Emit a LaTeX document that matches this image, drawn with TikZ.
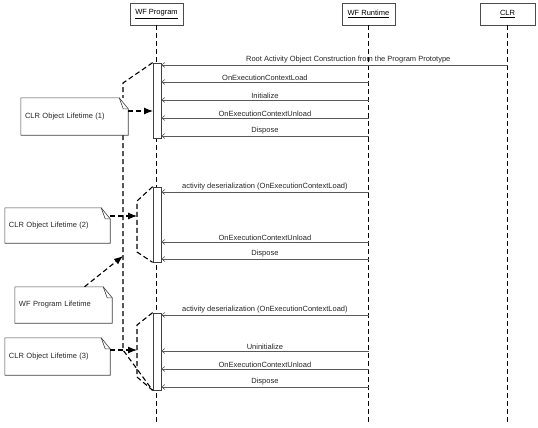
\documentclass[tikz,border=0pt]{standalone}
\usepackage{fontspec}
\setmainfont{Liberation Sans}
\usetikzlibrary{arrows.meta}
\begin{document}
\begin{tikzpicture}[x=1pt,y=-1pt,
  font=\fontsize{7.5}{9}\selectfont,
  head/.style={draw=black!70, line width=0.6pt, minimum width=53pt, minimum height=22pt, inner sep=0pt, fill=white},
  life/.style={draw=black, line width=0.7pt, dash pattern=on 5pt off 3pt},
  bar/.style={draw=black!75, line width=0.7pt, minimum width=8pt, inner sep=0pt, fill=white},
  msg/.style={draw=black!65, line width=0.6pt, -{Straight Barb[length=3pt,width=5pt]}},
  mlabel/.style={above, inner sep=1.5pt, text=black!85},
  note/.style={fill=white, inner xsep=4pt, inner ysep=0pt, align=left, text=black!85},
  lifespan/.style={draw=black, line width=1.1pt, dash pattern=on 5pt off 3pt},
  notearrow/.style={lifespan, -{Latex[length=9pt,width=7pt]}},
  noteline/.style={draw=black!75, line width=0.6pt},
]
\useasboundingbox (0,0) rectangle (538,428);
\fill[white] (0,0) rectangle (538,428);

% headers
\node[head] (wfp) at (156.5,14) {\underline{WF Program}};
\node[head] (wfr) at (368.5,14) {\underline{WF Runtime}};
\node[head, minimum width=55pt] (clr) at (507.5,14) {\underline{CLR}};

% lifelines
\coordinate (wfpEnd) at (156.5,423);
\coordinate (wfrEnd) at (368.5,423);
\coordinate (clrEnd) at (507.5,423);
\draw[life] (wfp.south) -- (wfpEnd);
\draw[life] (wfr.south) -- (wfrEnd);
\draw[life] (clr.south) -- (clrEnd);

% activation bars
\node[bar, minimum height=75pt] (b1) at (157,100.5) {};
\node[bar, minimum height=75pt] (b2) at (157,224.5) {};
\node[bar, minimum height=77pt] (b3) at (157,351.5) {};

% messages, block 1
\coordinate (m0) at (507.5,65);
\coordinate (m1) at (368.5,82);
\coordinate (m2) at (368.5,100);
\coordinate (m3) at (368.5,118);
\coordinate (m4) at (368.5,136);
\draw[msg] (m0) -- (m0 -| b1.east) node[mlabel, pos=0.46] {Root Activity Object Construction from the Program Prototype};
\draw[msg] (m1) -- (m1 -| b1.east) node[mlabel, midway] {OnExecutionContextLoad};
\draw[msg] (m2) -- (m2 -| b1.east) node[mlabel, midway] {Initialize};
\draw[msg] (m3) -- (m3 -| b1.east) node[mlabel, midway] {OnExecutionContextUnload};
\draw[msg] (m4) -- (m4 -| b1.east) node[mlabel, midway] {Dispose};

% messages, block 2
\coordinate (m5) at (368.5,192);
\coordinate (m6) at (368.5,242);
\coordinate (m7) at (368.5,259);
\draw[msg] (m5) -- (m5 -| b2.east) node[mlabel, midway] {activity deserialization (OnExecutionContextLoad)};
\draw[msg] (m6) -- (m6 -| b2.east) node[mlabel, midway] {OnExecutionContextUnload};
\draw[msg] (m7) -- (m7 -| b2.east) node[mlabel, midway] {Dispose};

% messages, block 3
\coordinate (m8) at (368.5,315);
\coordinate (m9) at (368.5,351);
\coordinate (m10) at (368.5,369);
\coordinate (m11) at (368.5,387);
\draw[msg] (m8) -- (m8 -| b3.east) node[mlabel, midway] {activity deserialization (OnExecutionContextLoad)};
\draw[msg] (m9) -- (m9 -| b3.east) node[mlabel, midway] {Uninitialize};
\draw[msg] (m10) -- (m10 -| b3.east) node[mlabel, midway] {OnExecutionContextUnload};
\draw[msg] (m11) -- (m11 -| b3.east) node[mlabel, midway] {Dispose};

% lifespan brackets
\coordinate (p1) at (123,83);
\coordinate (p2) at (123,350);
\draw[lifespan] (b1.north west) -- (p1) -- (p2) -- (b3.south west);
\coordinate (q1) at (137,201);
\coordinate (q2) at (137,252);
\draw[lifespan] (b2.north west) -- (q1) -- (q2) -- (b2.south west);
\coordinate (r1) at (137,325);
\coordinate (r2) at (137,377);
\draw[lifespan] (b3.north west) -- (r1) -- (r2) -- (b3.south west);

% notes
\node[note, text width=99pt, minimum height=37pt] (n1) at (74.5,116.5) {CLR Object Lifetime (1)};
\node[note, text width=97pt, minimum height=35pt] (n2) at (57.5,225.5) {CLR Object Lifetime (2)};
\node[note, text width=89pt, minimum height=36pt] (n4) at (63.5,305) {WF Program Lifetime};
\node[note, text width=97pt, minimum height=37pt] (n3) at (57.5,356.5) {CLR Object Lifetime (3)};
\foreach \n in {n1,n2,n4,n3}{
  \draw[noteline] (\n.north west) -- ([xshift=-9pt]\n.north east) -- ([yshift=-11pt]\n.north east) -- (\n.south east) -- (\n.south west) -- cycle;
  \draw[noteline] ([xshift=-9pt]\n.north east) -- ([xshift=-5pt,yshift=-11pt]\n.north east) -- ([yshift=-11pt]\n.north east);
}

% note arrows
\coordinate (t1) at (153,111);
\draw[notearrow] (n1.east |- t1) -- (t1);
\coordinate (t2) at (137,216);
\draw[notearrow] (n2.east |- t2) -- (t2);
\coordinate (t4) at (123,256);
\draw[notearrow] ([xshift=21pt]n4.north) -- (t4);
\coordinate (t3) at (137,350);
\draw[notearrow] (n3.east |- t3) -- (t3);
\end{tikzpicture}
\end{document}
